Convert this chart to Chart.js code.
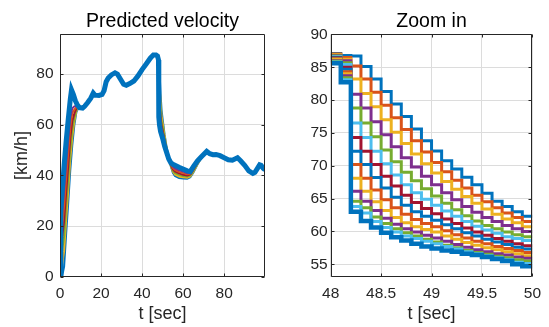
<!DOCTYPE html>
<html>
<head>
<meta charset="utf-8">
<script src="https://cdn.jsdelivr.net/npm/chart.js@4.4.1/dist/chart.umd.min.js"></script>
<style>
  html, body { margin: 0; padding: 0; background: #fff; }
  #wrap { position: relative; width: 549px; height: 327px; }
  canvas { position: absolute; top: 0; }
  #left { left: 0; width: 280px; height: 327px; }
  #right { left: 280px; width: 269px; height: 327px; }
</style>
</head>
<body>
<div id="wrap">
  <canvas id="left" width="280" height="327"></canvas>
  <canvas id="right" width="269" height="327"></canvas>
</div>
<script>
// ---- left panel: whole run ----
const leftXTicks = [0, 20, 40, 60, 80];
const leftXLabels = ['0', '20', '40', '60', '80'];
const leftYTicks = [0, 20, 40, 60, 80];
const leftYLabels = ['0', '20', '40', '60', '80'];

const leftTimes = [0, 0.4, 1, 2, 3, 4, 5, 5.6, 6.5, 7.5, 8.5, 9.5, 11, 12, 13.5, 15, 16.2, 17, 19, 20.5,
  21.5, 22.5, 23.5, 25, 26.8, 28, 29.5, 31, 32.3, 34, 36, 38, 40, 42, 44, 45.5, 46.8, 47.5, 48, 48.1,
  48.2, 48.5, 49, 50, 51, 52, 53, 54, 55, 56, 58, 60, 62, 63.5, 65, 67, 69, 71.5, 73, 74.5,
  76, 78, 80, 82, 84, 86.5, 88, 90, 92, 94, 95, 96, 97.3, 98, 99, 99.9];
const leftVelocity = [0, 26, 33, 44, 53.5, 62, 70, 73.8, 72, 69.5, 67.8, 66.8, 66.6, 67.3, 68.8, 70.5, 72.5, 71.7, 71.6, 72,
  73.5, 77, 78.5, 79.7, 80.5, 80, 78, 76, 75.6, 76.3, 77.3, 79.3, 81.8, 84, 86.3, 87.6, 87.6, 87.2, 85.6, 82.7,
  63, 59.8, 57.4, 54.7, 51.5, 49, 46.5, 45, 44.4, 44, 43.2, 42.5, 41.8, 41.5, 43.5, 45.8, 47.5, 49.5, 48.6, 48.2,
  48.3, 47.8, 47, 46.2, 46, 47, 45.8, 44, 41.8, 40.8, 41.2, 42.5, 44.2, 44, 42.8, 42.2];

// predicted lines, only where they leave the measured one (null = gap)
const shadowTimes = [0, 1, 2, 3, 4, 5, 6, 7, 8, 9, 10, 11, 12, 13, 30,
  46, 47, 48, 48.2, 48.5, 49, 49.5, 50, 51, 52, 53, 54, 55, 56, 58, 60, 62, 63.5, 65, 67, 69, 71.5];
const shadowA = [0, 0, 4, 17, 29, 42, 52, 60, 65, 66.8, 67, 66.8, 67.3, 68.3, null,
  87.6, 87.4, 87.1, 86.7, 81.3, 72.25, 65.8, 62.3, 56, 51, 47, 43.5, 41, 39.8, 39, 38.8, 38.7, 39.3, 41.2, 44.3, 47, 49.5];
const shadowB = [0, 5, 10, 22.5, 34, 46.2, 55.2, 61.5, 65.5, 67, 67, 66.8, 67.3, 68.3, null,
  87.6, 87.4, 86.9, 83.2, 77.0, 68.9, 63.4, 60.7, 55.5, 50.6, 46.9, 43.8, 41.5, 40.4, 39.6, 39.3, 39.1, 39.6, 41.5, 44.5, 47.1, 49.5];
const shadowC = [0, 9.9, 16, 28, 38.9, 50.4, 58.4, 63, 66, 67.1, 67, 66.8, 67.3, 68.3, null,
  87.6, 87.4, 86.7, 78.8, 72.4, 65.4, 60.9, 59.2, 54.5, 50.3, 46.8, 44, 42, 41, 40.2, 39.8, 39.6, 40, 41.9, 44.8, 47.2, 49.5];
const shadowD = [0, 14.9, 22, 33.4, 43.9, 54.6, 61.5, 64.5, 66.5, 67.1, 67, 66.8, 67.3, 68.3, null,
  87.6, 87.4, 86.5, 74.3, 68.4, 62.7, 59.4, 57.8, 53.6, 50.0, 46.7, 44.2, 42.5, 41.6, 40.8, 40.3, 40.0, 40.4, 42.3, 45.0, 47.3, 49.5];
const shadowE = [0, 19.8, 28, 38.9, 48.8, 58.8, 64.7, 66, 67, 67.2, 67, 66.8, 67.3, 68.3, null,
  87.6, 87.4, 86.3, 70.2, 64.8, 60.7, 58.1, 56.8, 52.8, 49.7, 46.6, 44.5, 43, 42.2, 41.4, 40.9, 40.5, 40.7, 42.7, 45.3, 47.4, 49.5];
const shadowF = [0, 24.8, 34, 44.4, 53.8, 63, 66.5, 67.3, 67.5, 67.2, 67, 66.8, 67.3, 68.3, null,
  87.6, 87.4, 86.0, 66.1, 62.0, 59.0, 56.9, 55.9, 52.2, 49.4, 46.5, 44.7, 43.5, 42.8, 42.0, 41.5, 40.9, 41.0, 43.0, 45.5, 47.5, 49.5];

// ---- right panel: zoom on 48..50 s ----
const rightXTicks = [48, 48.5, 49, 49.5, 50];
const rightXLabels = ['48', '48.5', '49', '49.5', '50'];
const rightYTicks = [55, 60, 65, 70, 75, 80, 85, 90];
const rightYLabels = ['55', '60', '65', '70', '75', '80', '85', '90'];
const rightTimes = [48.0, 48.1, 48.2, 48.3, 48.4, 48.5, 48.6, 48.7, 48.8, 48.9, 49.0,
  49.1, 49.2, 49.3, 49.4, 49.5, 49.6, 49.7, 49.8, 49.9, 50.0];

const pred1 = [87.1, 86.8, 86.7, 85.1, 83.2, 81.3, 79.4, 77.5, 75.6, 73.8, 72.25, 70.75, 69.5, 68.25, 67.1, 65.8, 64.6, 63.8, 63.0, 62.3, 62.3];
const pred2 = [87.0, 86.5, 85.2, 83.2, 81.2, 79.2, 77.3, 75.5, 73.8, 72.1, 70.5, 69.1, 67.8, 66.6, 65.5, 64.5, 63.6, 62.8, 62.1, 61.5, 61.5];
const pred3 = [86.9, 86.2, 83.2, 81.0, 79.0, 77.0, 75.1, 73.4, 71.8, 70.3, 68.9, 67.6, 66.4, 65.3, 64.3, 63.4, 62.6, 61.9, 61.3, 60.7, 60.7];
const pred4 = [86.8, 86.0, 80.9, 78.8, 76.7, 74.7, 72.9, 71.2, 69.8, 68.4, 67.1, 65.9, 64.8, 63.8, 62.9, 62.1, 61.5, 60.9, 60.4, 60.0, 60.0];
const pred5 = [86.7, 85.7, 78.8, 76.5, 74.4, 72.4, 70.6, 69.0, 67.7, 66.5, 65.4, 64.3, 63.3, 62.4, 61.6, 60.9, 60.4, 59.9, 59.5, 59.2, 59.2];
const pred6 = [86.6, 85.4, 76.5, 74.3, 72.2, 70.3, 68.6, 67.1, 65.9, 64.9, 64.0, 63.1, 62.3, 61.5, 60.8, 60.2, 59.7, 59.2, 58.9, 58.6, 58.6];
const pred7 = [86.5, 85.0, 74.3, 72.2, 70.2, 68.4, 66.9, 65.5, 64.4, 63.5, 62.7, 61.9, 61.2, 60.5, 59.9, 59.4, 58.9, 58.5, 58.1, 57.8, 57.8];
const pred8 = [86.4, 84.7, 72.2, 70.2, 68.2, 66.6, 65.2, 64.0, 63.0, 62.3, 61.7, 61.0, 60.4, 59.8, 59.3, 58.8, 58.4, 58.0, 57.6, 57.3, 57.3];
const pred9 = [86.3, 84.3, 70.2, 68.1, 66.3, 64.8, 63.6, 62.6, 61.8, 61.2, 60.7, 60.1, 59.5, 59.0, 58.5, 58.1, 57.7, 57.4, 57.1, 56.8, 56.8];
const pred10 = [86.2, 84.0, 68.1, 66.1, 64.5, 63.2, 62.1, 61.3, 60.7, 60.3, 59.9, 59.3, 58.8, 58.3, 57.9, 57.5, 57.2, 56.9, 56.6, 56.3, 56.3];
const pred11 = [86.0, 83.7, 66.1, 64.6, 63.2, 62.0, 61.1, 60.4, 59.9, 59.4, 59.0, 58.5, 58.0, 57.6, 57.2, 56.9, 56.6, 56.4, 56.1, 55.9, 55.9];
const pred12 = [85.9, 83.4, 64.6, 63.6, 62.2, 61.2, 60.4, 59.8, 59.3, 58.8, 58.4, 57.9, 57.5, 57.1, 56.8, 56.5, 56.2, 56.0, 55.7, 55.5, 55.5];
const pred13 = [85.8, 83.1, 63.8, 62.8, 61.5, 60.6, 59.9, 59.3, 58.9, 58.5, 58.1, 57.7, 57.3, 56.9, 56.6, 56.3, 56.0, 55.7, 55.3, 55.1, 55.1];
const measured = [85.6, 82.7, 63.0, 61.6, 60.6, 59.8, 59.1, 58.6, 58.1, 57.7, 57.4, 57.1, 56.9, 56.6, 56.4, 56.1, 55.8, 55.5, 55.0, 54.7, 54.7];

const C = {
  blue: '#0072BD', orange: '#D95319', yellow: '#EDB120', purple: '#7E2F8E',
  green: '#77AC30', cyan: '#4DBEEE', red: '#A2142F',
};
const cycle = [C.blue, C.orange, C.yellow, C.purple, C.green, C.cyan, C.red];

const FONT = '"Liberation Sans", Arial, Helvetica, sans-serif';
const INK = '#262626';

function xy(xs, ys) {
  return xs.map((x, i) => ({ x, y: ys[i] }));
}

// MATLAB style box with inward tick marks
const boxTicks = {
  id: 'boxTicks',
  afterDatasetsDraw(chart) {
    const { ctx, chartArea: a, scales: { x, y } } = chart;
    const L = Math.round(a.left) + 0.5, R = Math.round(a.right) - 0.5;
    const T = Math.round(a.top) + 0.5, B = Math.round(a.bottom) - 0.5;
    ctx.save();
    ctx.strokeStyle = INK;
    ctx.lineWidth = 1;
    ctx.beginPath();
    x.ticks.forEach(t => {
      const px = Math.round(x.getPixelForValue(t.value)) + 0.5;
      ctx.moveTo(px, B); ctx.lineTo(px, B - 3);
      ctx.moveTo(px, T); ctx.lineTo(px, T + 3);
    });
    y.ticks.forEach(t => {
      const py = Math.round(y.getPixelForValue(t.value)) + 0.5;
      ctx.moveTo(L, py); ctx.lineTo(L + 3, py);
      ctx.moveTo(R, py); ctx.lineTo(R - 3, py);
    });
    ctx.rect(L, T, R - L, B - T);
    ctx.stroke();
    ctx.restore();
  },
};

function makeOptions(cfg) {
  return {
    responsive: false,
    animation: false,
    events: [],
    layout: { padding: { top: 0, left: 0, right: cfg.rightPad, bottom: 0 } },
    plugins: {
      legend: { display: false },
      tooltip: { enabled: false },
      title: {
        display: true,
        fullSize: false,
        text: cfg.title,
        color: '#000',
        font: { family: FONT, size: 19.5, weight: 'normal', lineHeight: 1.2 },
        padding: { top: 10, bottom: 1 },
      },
    },
    scales: {
      x: {
        type: 'linear',
        min: cfg.xMin, max: cfg.xMax,
        afterBuildTicks: s => { s.ticks = cfg.xTicks.map(v => ({ value: v })); },
        afterFit: s => { s.height = 50.3; },
        grid: { color: '#dcdcdc', lineWidth: 1, drawTicks: false },
        border: { display: false },
        ticks: {
          autoSkip: false, maxRotation: 0, padding: 8, color: INK, font: { family: FONT, size: 15.5 },
          callback: (v, i) => cfg.xLabels[i],
        },
        title: {
          display: true, text: 't [sec]', color: INK,
          font: { family: FONT, size: 18, lineHeight: 1.2 }, padding: { top: 0, bottom: 2 },
        },
      },
      y: {
        type: 'linear',
        min: cfg.yMin, max: cfg.yMax,
        afterBuildTicks: s => { s.ticks = cfg.yTicks.map(v => ({ value: v })); },
        afterFit: s => { s.width = cfg.yWidth; },
        grid: { color: '#dcdcdc', lineWidth: 1, drawTicks: false },
        border: { display: false },
        ticks: {
          autoSkip: false, padding: cfg.yTickPad, color: INK, font: { family: FONT, size: 15.5 },
          callback: (v, i) => cfg.yLabels[i],
        },
        title: {
          display: !!cfg.yTitle, text: cfg.yTitle || '', color: INK,
          font: { family: FONT, size: 18, lineHeight: 1.2 }, padding: { top: 11, bottom: 0 },
        },
      },
    },
  };
}

function line(data, color, width, order, extra) {
  return Object.assign({
    data, borderColor: color, backgroundColor: color, borderWidth: width,
    pointRadius: 0, fill: false, tension: 0, order,
  }, extra || {});
}

// left chart
const shadows = [shadowA, shadowB, shadowC, shadowD, shadowE, shadowF];
const shadowColors = [C.blue, C.yellow, C.green, C.red, C.orange, C.purple];
new Chart(document.getElementById('left'), {
  type: 'line',
  data: {
    datasets: [
      line(xy(leftTimes, leftVelocity), C.blue, 5, 0),
      ...shadows.map((s, i) => line(xy(shadowTimes, s), shadowColors[i], 2, 10 - i)),
    ],
  },
  options: makeOptions({
    title: 'Predicted velocity', yTitle: '[km/h]',
    xMin: 0, xMax: 99.9, yMin: 0, yMax: 95.7,
    xTicks: leftXTicks, xLabels: leftXLabels, yTicks: leftYTicks, yLabels: leftYLabels,
    yWidth: 60, rightPad: 15, yTickPad: 6.5,
  }),
  plugins: [boxTicks],
});

// right chart
const preds = [pred1, pred2, pred3, pred4, pred5, pred6, pred7, pred8, pred9, pred10, pred11, pred12, pred13];
new Chart(document.getElementById('right'), {
  type: 'line',
  data: {
    datasets: [
      line(xy(rightTimes, measured), C.blue, 4.5, 0, { stepped: true }),
      ...preds.map((p, i) => line(xy(rightTimes, p), cycle[i % cycle.length], 3, preds.length - i, { stepped: true })),
    ],
  },
  options: makeOptions({
    title: 'Zoom in', yTitle: null,
    xMin: 48, xMax: 50, yMin: 53.1, yMax: 90,
    xTicks: rightXTicks, xLabels: rightXLabels, yTicks: rightYTicks, yLabels: rightYLabels,
    yWidth: 50.7, rightPad: 12.3, yTickPad: 3,
  }),
  plugins: [boxTicks],
});
</script>
</body>
</html>
